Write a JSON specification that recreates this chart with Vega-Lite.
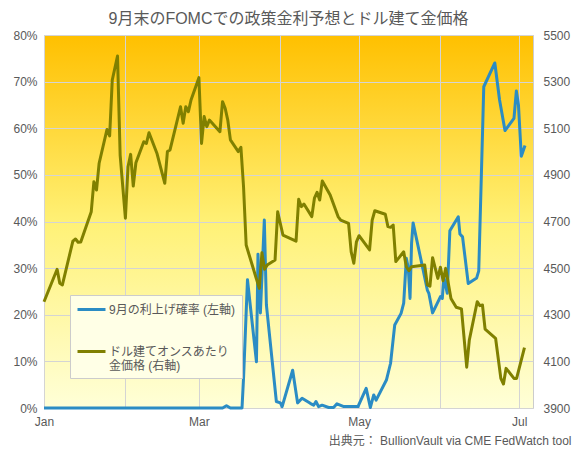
{
  "$schema": "https://vega.github.io/schema/vega-lite/v6.json",
  "width": 489,
  "height": 373,
  "autosize": "none",
  "padding": {"left": 44, "top": 35, "right": 43, "bottom": 45},
  "background": "#ffffff",
  "title": {"text": "9月末のFOMCでの政策金利予想とドル建て金価格", "fontSize": 16, "fontWeight": "normal", "color": "#595959", "offset": 2, "anchor": "middle"},
  "config": {
    "font": "Liberation Sans, Noto Sans CJK JP, sans-serif",
    "view": {
      "stroke": "#cccccc",
      "fill": {"gradient": "linear", "x1": 0, "y1": 0, "x2": 0, "y2": 1, "stops": [{"offset": 0, "color": "#FFC000"}, {"offset": 0.5, "color": "#FFF176"}, {"offset": 1, "color": "#FFFFD8"}]}
    },
    "axis": {"labelColor": "#595959", "labelFontSize": 12, "gridColor": "#d4d4d4", "domain": false, "ticks": false}
  },
  "datasets": {
    "gold": [
      {"d": "2026-01-01", "v": 4356}, {"d": "2026-01-06", "v": 4495}, {"d": "2026-01-07", "v": 4435}, {"d": "2026-01-08", "v": 4428},
      {"d": "2026-01-12", "v": 4616}, {"d": "2026-01-13", "v": 4625}, {"d": "2026-01-14", "v": 4611}, {"d": "2026-01-15", "v": 4612},
      {"d": "2026-01-19", "v": 4742}, {"d": "2026-01-20", "v": 4871}, {"d": "2026-01-21", "v": 4835}, {"d": "2026-01-22", "v": 4950},
      {"d": "2026-01-25", "v": 5095}, {"d": "2026-01-26", "v": 5067}, {"d": "2026-01-27", "v": 5307}, {"d": "2026-01-29", "v": 5410},
      {"d": "2026-01-30", "v": 4985}, {"d": "2026-02-01", "v": 4714}, {"d": "2026-02-02", "v": 4935}, {"d": "2026-02-03", "v": 4988},
      {"d": "2026-02-04", "v": 4852}, {"d": "2026-02-05", "v": 4952}, {"d": "2026-02-08", "v": 5042}, {"d": "2026-02-09", "v": 5035},
      {"d": "2026-02-10", "v": 5081}, {"d": "2026-02-13", "v": 4993}, {"d": "2026-02-16", "v": 4864}, {"d": "2026-02-17", "v": 5000},
      {"d": "2026-02-18", "v": 5007}, {"d": "2026-02-22", "v": 5192}, {"d": "2026-02-23", "v": 5121}, {"d": "2026-02-24", "v": 5192},
      {"d": "2026-02-25", "v": 5171}, {"d": "2026-02-26", "v": 5221}, {"d": "2026-03-01", "v": 5317}, {"d": "2026-03-02", "v": 5035},
      {"d": "2026-03-03", "v": 5150}, {"d": "2026-03-04", "v": 5107}, {"d": "2026-03-05", "v": 5135}, {"d": "2026-03-09", "v": 5085},
      {"d": "2026-03-10", "v": 5214}, {"d": "2026-03-11", "v": 5186}, {"d": "2026-03-12", "v": 5135}, {"d": "2026-03-13", "v": 5050},
      {"d": "2026-03-16", "v": 5000}, {"d": "2026-03-17", "v": 5018}, {"d": "2026-03-18", "v": 4849}, {"d": "2026-03-19", "v": 4599},
      {"d": "2026-03-24", "v": 4413}, {"d": "2026-03-25", "v": 4566}, {"d": "2026-03-26", "v": 4495}, {"d": "2026-03-27", "v": 4513},
      {"d": "2026-03-30", "v": 4535}, {"d": "2026-03-31", "v": 4742}, {"d": "2026-04-02", "v": 4642}, {"d": "2026-04-07", "v": 4616},
      {"d": "2026-04-08", "v": 4795}, {"d": "2026-04-09", "v": 4764}, {"d": "2026-04-10", "v": 4775}, {"d": "2026-04-13", "v": 4721},
      {"d": "2026-04-14", "v": 4800}, {"d": "2026-04-15", "v": 4825}, {"d": "2026-04-16", "v": 4792}, {"d": "2026-04-17", "v": 4874},
      {"d": "2026-04-20", "v": 4814}, {"d": "2026-04-23", "v": 4721}, {"d": "2026-04-24", "v": 4706}, {"d": "2026-04-27", "v": 4692},
      {"d": "2026-04-28", "v": 4570}, {"d": "2026-04-29", "v": 4521}, {"d": "2026-04-30", "v": 4613}, {"d": "2026-05-01", "v": 4639},
      {"d": "2026-05-05", "v": 4578}, {"d": "2026-05-06", "v": 4706}, {"d": "2026-05-07", "v": 4746}, {"d": "2026-05-11", "v": 4731},
      {"d": "2026-05-12", "v": 4678}, {"d": "2026-05-13", "v": 4675}, {"d": "2026-05-14", "v": 4685}, {"d": "2026-05-15", "v": 4528},
      {"d": "2026-05-18", "v": 4570}, {"d": "2026-05-19", "v": 4506}, {"d": "2026-05-20", "v": 4489}, {"d": "2026-05-21", "v": 4506},
      {"d": "2026-05-26", "v": 4513}, {"d": "2026-05-27", "v": 4428}, {"d": "2026-05-28", "v": 4423}, {"d": "2026-05-29", "v": 4545},
      {"d": "2026-05-31", "v": 4456}, {"d": "2026-06-01", "v": 4504}, {"d": "2026-06-02", "v": 4446}, {"d": "2026-06-03", "v": 4499},
      {"d": "2026-06-05", "v": 4370}, {"d": "2026-06-07", "v": 4332}, {"d": "2026-06-09", "v": 4325}, {"d": "2026-06-11", "v": 4075},
      {"d": "2026-06-12", "v": 4192}, {"d": "2026-06-15", "v": 4356}, {"d": "2026-06-16", "v": 4339}, {"d": "2026-06-17", "v": 4342},
      {"d": "2026-06-18", "v": 4238}, {"d": "2026-06-22", "v": 4199}, {"d": "2026-06-24", "v": 4027}, {"d": "2026-06-25", "v": 4003},
      {"d": "2026-06-26", "v": 4070}, {"d": "2026-06-29", "v": 4027}, {"d": "2026-06-30", "v": 4027}, {"d": "2026-07-03", "v": 4159}
    ],
    "prob": [
      {"d": "2026-01-01", "v": 0}, {"d": "2026-03-10", "v": 0}, {"d": "2026-03-11T12:00", "v": 0.5}, {"d": "2026-03-13", "v": 0},
      {"d": "2026-03-17T10:00", "v": 0}, {"d": "2026-03-18", "v": 6.4}, {"d": "2026-03-19T12:00", "v": 27.5}, {"d": "2026-03-22T22:00", "v": 9.9},
      {"d": "2026-03-23T12:00", "v": 33}, {"d": "2026-03-24T10:00", "v": 20.4}, {"d": "2026-03-25T22:00", "v": 40.3}, {"d": "2026-03-26T17:00", "v": 22.1},
      {"d": "2026-03-30T12:00", "v": 1.4}, {"d": "2026-04-01", "v": 1.1}, {"d": "2026-04-01T17:00", "v": 0.3}, {"d": "2026-04-05T17:00", "v": 8.1},
      {"d": "2026-04-07T14:00", "v": 1.1}, {"d": "2026-04-09T07:00", "v": 2.1}, {"d": "2026-04-12T10:00", "v": 1.0}, {"d": "2026-04-13T17:00", "v": 0.6},
      {"d": "2026-04-14T14:00", "v": 1.4}, {"d": "2026-04-15T14:00", "v": 0.3}, {"d": "2026-04-16T22:00", "v": 0.6}, {"d": "2026-04-19T10:00", "v": 0.1},
      {"d": "2026-04-21T07:00", "v": 0.1}, {"d": "2026-04-22T14:00", "v": 0.9}, {"d": "2026-04-25T05:00", "v": 0.3}, {"d": "2026-04-30T14:00", "v": 0.3},
      {"d": "2026-05-03T17:00", "v": 4.2}, {"d": "2026-05-05T07:00", "v": 0.1}, {"d": "2026-05-06T14:00", "v": 2.8}, {"d": "2026-05-07T12:00", "v": 1.7},
      {"d": "2026-05-11T10:00", "v": 6}, {"d": "2026-05-13", "v": 9.6}, {"d": "2026-05-14T14:00", "v": 17.8}, {"d": "2026-05-17", "v": 20.3},
      {"d": "2026-05-18", "v": 22.5}, {"d": "2026-05-19", "v": 32.1}, {"d": "2026-05-19T18:00", "v": 30}, {"d": "2026-05-20T10:00", "v": 23.5},
      {"d": "2026-05-21", "v": 35.3}, {"d": "2026-05-21T14:00", "v": 39.7}, {"d": "2026-05-25", "v": 30.7}, {"d": "2026-05-27", "v": 25.3},
      {"d": "2026-05-27T14:00", "v": 24.6}, {"d": "2026-05-29", "v": 20.4}, {"d": "2026-05-31T10:00", "v": 23.2}, {"d": "2026-06-01", "v": 23.9},
      {"d": "2026-06-01T17:00", "v": 23.5}, {"d": "2026-06-02T07:00", "v": 28.2}, {"d": "2026-06-02T22:00", "v": 26.4}, {"d": "2026-06-03T14:00", "v": 24.6},
      {"d": "2026-06-04T14:00", "v": 38}, {"d": "2026-06-07T19:00", "v": 41}, {"d": "2026-06-08T10:00", "v": 37.3}, {"d": "2026-06-09T10:00", "v": 36.7},
      {"d": "2026-06-11T14:00", "v": 26.7}, {"d": "2026-06-14T19:00", "v": 27.9}, {"d": "2026-06-15T14:00", "v": 29.4}, {"d": "2026-06-17T12:00", "v": 68.9},
      {"d": "2026-06-21T17:00", "v": 74}, {"d": "2026-06-23T12:00", "v": 66.1}, {"d": "2026-06-25T14:00", "v": 59.5}, {"d": "2026-06-29", "v": 62.1},
      {"d": "2026-06-29T22:00", "v": 68}, {"d": "2026-06-30T17:00", "v": 65}, {"d": "2026-07-01T19:00", "v": 54}, {"d": "2026-07-03T05:00", "v": 56.3}
    ]
  },
  "encoding": {
    "x": {
      "field": "d", "type": "temporal",
      "scale": {"domain": [{"year": 2026, "month": 1, "date": 1}, {"year": 2026, "month": 7, "date": 6, "hours": 6}]},
      "axis": {
        "tickCount": {"interval": "month", "step": 1},
        "format": "%b",
        "labelExpr": "month(datum.value) % 2 == 0 ? datum.label : ''",
        "labelPadding": 8,
        "labelAlign": "center",
        "labelFlush": false,
        "grid": true,
        "title": "出典元： BullionVault via CME FedWatch tool",
        "titleFontSize": 12,
        "titleFontWeight": "normal",
        "titleColor": "#595959",
        "titleAlign": "right",
        "titleAnchor": "end",
        "titleBaseline": "alphabetic",
        "titleX": 527,
        "titleY": 36
      }
    }
  },
  "layer": [
    {
      "data": {"name": "prob"},
      "mark": {"type": "line", "strokeWidth": 3, "strokeJoin": "round"},
      "encoding": {
        "y": {
          "field": "v", "type": "quantitative",
          "scale": {"domain": [0, 80]},
          "axis": {"values": [0, 10, 20, 30, 40, 50, 60, 70, 80], "labelExpr": "datum.value + '%'", "title": null, "grid": true, "labelPadding": 7}
        },
        "color": {
          "datum": "9月の利上げ確率 (左軸)",
          "scale": {"domain": ["9月の利上げ確率 (左軸)", "ドル建てオンスあたり金価格 (右軸)"], "range": ["#2b8cc4", "#808000"]},
          "legend": {
            "orient": "none", "legendX": 26, "legendY": 260, "title": null,
            "symbolType": "M-1,0L3,0", "symbolStrokeWidth": 3, "symbolSize": 196, "symbolFillColor": "transparent",
            "labelFontSize": 12, "labelColor": "#595959", "labelLimit": 300, "labelOffset": 16,
            "fillColor": "#FFFFE6", "strokeColor": "#cccccc", "padding": 6, "rowPadding": 27,
            "labelExpr": "datum.label == 'ドル建てオンスあたり金価格 (右軸)' ? ['ドル建てオンスあたり', '金価格 (右軸)'] : datum.label",
            "encoding": {
              "labels": {"update": {"lineHeight": {"value": 26}, "dy": {"signal": "datum.index == 1 ? 13 : 0"}}}
            }
          }
        }
      }
    },
    {
      "data": {"name": "gold"},
      "mark": {"type": "line", "strokeWidth": 3, "strokeJoin": "round"},
      "encoding": {
        "y": {
          "field": "v", "type": "quantitative",
          "scale": {"domain": [3900, 5500]},
          "axis": {"orient": "right", "format": "d", "values": [3900, 4100, 4300, 4500, 4700, 4900, 5100, 5300, 5500], "title": null, "grid": false, "labelPadding": 10}
        },
        "color": {"datum": "ドル建てオンスあたり金価格 (右軸)"}
      }
    }
  ],
  "resolve": {"scale": {"y": "independent"}}
}
